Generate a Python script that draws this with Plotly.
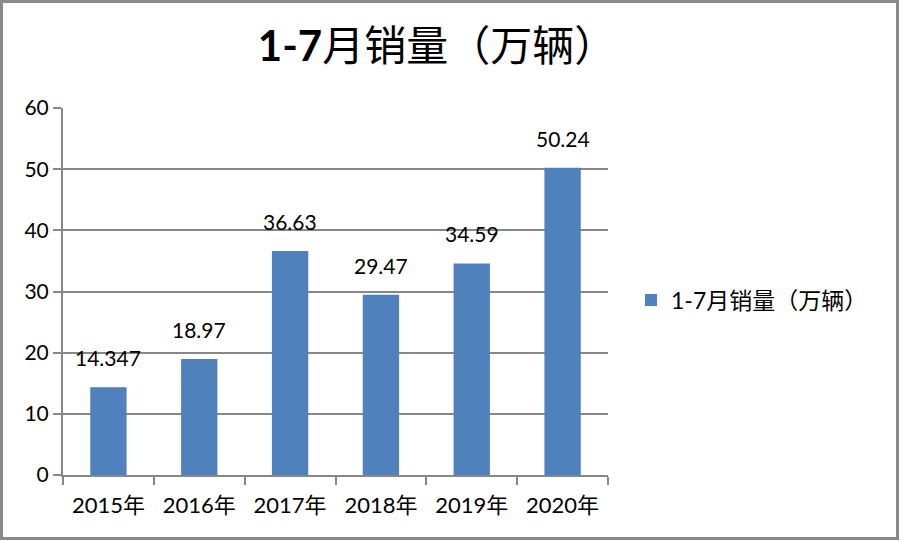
import plotly.graph_objects as go

categories = ["2015年", "2016年", "2017年", "2018年", "2019年", "2020年"]
values = [14.347, 18.97, 36.63, 29.47, 34.59, 50.24]
labels = ["14.347", "18.97", "36.63", "29.47", "34.59", "50.24"]
series_name = "1-7月销量（万辆）"
title_text = "<b>1-7</b>月销量（万辆）"

FONT = "Lato, 'Noto Sans CJK SC', sans-serif"
GRID = "#878787"

fig = go.Figure()
fig.add_trace(go.Bar(
    x=categories, y=values, name=series_name,
    marker=dict(color="#4F81BD", line=dict(width=0)),
    showlegend=True,
))

for c, v, t in zip(categories, values, labels):
    fig.add_annotation(x=c, y=v, text=t, showarrow=False, yanchor="bottom",
                       yshift=15, font=dict(size=21, color="#000000", family=FONT))

L, R, T, B = 63, 608, 108, 475
W, H = 900, 541
pw, ph = R - L, B - T
fig.add_shape(type="rect", xref="paper", yref="paper",
              x0=(1.5 - L) / pw, x1=(W - 2.5 - L) / pw,
              y0=(B - (H - 2.5)) / ph, y1=(B - 1.5) / ph,
              line=dict(color="#8a8a8a", width=3), fillcolor="rgba(0,0,0,0)", layer="above")

fig.update_layout(
    width=W, height=H,
    margin=dict(l=L, r=W - R, t=T, b=H - B, pad=0),
    paper_bgcolor="white", plot_bgcolor="white",
    font=dict(family=FONT, size=21, color="#000000"),
    title=dict(text=title_text, x=437 / W, xanchor="center", y=1 - 46 / H, yanchor="middle",
               font=dict(size=42, family=FONT, color="#000000")),
    bargap=0.6,
    legend=dict(x=(631 - L) / pw, xanchor="left", y=(B - 300) / ph, yanchor="middle",
                font=dict(size=23, family=FONT), bgcolor="rgba(0,0,0,0)"),
    xaxis=dict(showline=True, linecolor=GRID, linewidth=2, ticks="outside", ticklen=8,
               tickcolor=GRID, tickwidth=2, tickson="boundaries", showgrid=False,
               tickfont=dict(size=22), ticklabelstandoff=10, fixedrange=True),
    yaxis=dict(range=[0, 60], dtick=10, showline=True, linecolor=GRID, linewidth=2,
               ticks="outside", ticklen=8, tickcolor=GRID, tickwidth=2,
               showgrid=True, gridcolor=GRID, gridwidth=2, zeroline=False,
               tickfont=dict(size=21), fixedrange=True),
)

fig.write_html("out.html", config={"displayModeBar": False},
               post_script="document.body.style.margin='0';")
